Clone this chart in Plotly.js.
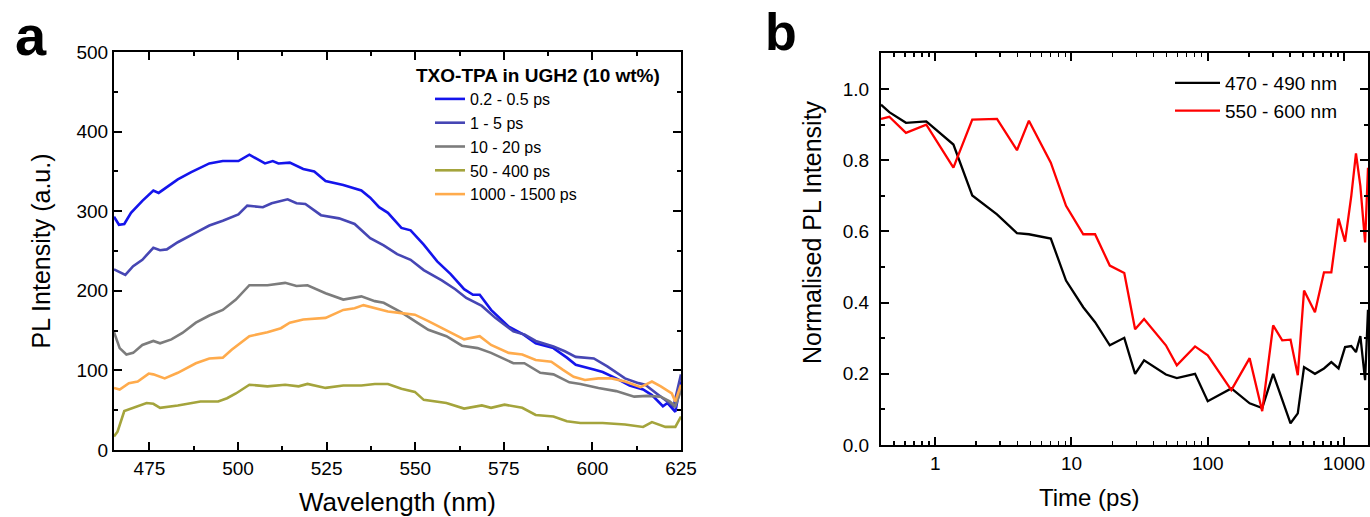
<!DOCTYPE html>
<html>
<head>
<meta charset="utf-8">
<script src="https://cdn.plot.ly/plotly-3.0.1.min.js"></script>
<style>
html,body{margin:0;padding:0;background:#fff;}
#chart{width:1370px;height:517px;}
</style>
</head>
<body>
<div id="chart"></div>
<script>
// ---------- Panel a : PL spectra (wavelength nm -> PL intensity a.u.) ----------
const seriesNamesA = ["0.2 - 0.5 ps", "1 - 5 ps", "10 - 20 ps", "50 - 400 ps", "1000 - 1500 ps"];

const wlBlue = [465.0,466.4,467.9,469.8,473.0,476.1,477.6,479.3,483.0,486.8,491.9,495.7,500.1,503.2,507.6,509.8,511.4,514.6,518.4,521.5,524.7,529.7,534.8,537.3,539.8,542.3,546.1,548.7,552.4,556.2,560.0,563.8,566.3,568.2,571.4,576.4,580.2,584.0,589.0,592.8,595.3,600.4,602.9,606.7,610.5,614.3,616.8,619.9,621.2,623.4,625.0];
const intBlue = [293,283,284,298,313,326,323,328,340,349,360,363,363,371,360,363,360,361,353,350,338,333,326,317,305,298,279,276,258,237,221,202,195,195,176,155,146,134,128,116,107,101,98,90,81,76,69,55,59,48,86];

const wlSlate = [465.0,466.6,468.2,470.4,473.0,476.1,478.0,479.9,483.0,488.1,491.9,495.7,500.1,502.6,507.0,509.5,514.0,516.5,519.0,523.4,528.5,532.9,537.3,541.1,544.9,548.7,552.4,557.5,561.3,564.4,568.8,572.6,577.7,580.8,584.0,589.0,592.2,595.3,600.4,604.2,609.2,613.0,614.9,618.1,620.6,622.9,625.0];
const intSlate = [227,224,220,231,239,254,251,252,261,273,282,288,296,307,305,310,315,310,309,295,291,284,266,257,246,239,226,213,202,191,181,166,149,145,137,130,124,117,115,105,90,84,82,71,63,55,95];

const wlGray = [465.0,466.6,468.5,470.4,473.0,476.1,478.0,481.2,484.3,488.1,491.9,495.7,499.4,503.2,508.3,513.3,516.5,519.6,524.7,529.7,534.8,538.6,541.1,546.1,549.9,553.7,558.8,563.2,567.6,571.4,577.7,580.8,585.3,589.0,593.5,596.6,601.7,606.7,611.8,615.5,619.3,621.8,623.4,625.0];
const intGray = [148,128,120,122,132,137,134,139,147,160,169,176,189,207,207,210,206,207,197,189,193,187,185,173,162,151,143,131,128,122,109,109,97,95,85,83,78,74,67,68,67,61,55,75];

const wlOlive = [465.0,466.0,467.9,470.4,474.2,476.1,478.0,483.0,489.4,494.4,496.9,499.4,503.2,508.3,513.3,517.1,519.6,524.7,529.7,534.8,538.6,542.3,546.1,549.9,552.4,558.8,563.8,568.8,571.4,575.2,580.2,584.0,589.0,592.8,596.6,602.9,609.2,614.3,616.8,620.6,623.4,625.0];
const intOlive = [17,23,49,53,59,58,53,56,61,61,65,71,82,80,82,80,83,78,81,81,83,83,77,73,63,59,52,56,53,57,53,44,42,36,34,34,32,29,35,29,29,42];

const wlOrange = [465.0,466.6,469.2,471.7,474.8,476.1,479.3,483.0,488.1,491.9,495.7,498.2,503.2,508.3,512.1,514.6,518.4,524.7,529.7,532.9,535.4,538.6,542.3,546.1,549.9,553.7,557.5,561.3,563.8,568.2,571.4,576.4,580.2,584.0,588.4,591.6,594.7,597.9,601.7,605.4,609.2,613.6,616.8,619.3,622.4,623.4,625.0];
const intOrange = [78,76,84,86,96,95,90,97,109,115,116,126,143,148,153,160,164,166,176,178,182,178,174,172,170,162,153,144,139,143,132,122,120,113,111,101,92,88,90,90,86,79,86,80,71,61,82];

const xTicksA = [475, 500, 525, 550, 575, 600, 625];
const yTicksA = [0, 100, 200, 300, 400, 500];
const legendTitleA = "TXO-TPA in UGH2 (10 wt%)";

// ---------- Panel b : normalised kinetics ----------
const seriesNamesB = ["470 - 490 nm", "550 - 600 nm"];
const timePs = [0.4,0.46,0.61,0.86,1.36,1.87,2.84,3.98,4.87,7.05,9.12,12.2,14.9,19.1,24.4,29.3,34.1,49.3,59.3,80.7,100,149,203,251,302,352,405,458,509,612,713,807,912,1018,1131,1224,1318,1428,1500];
const norm470 = [0.956,0.935,0.905,0.909,0.844,0.701,0.648,0.595,0.592,0.580,0.462,0.387,0.345,0.280,0.301,0.200,0.238,0.198,0.188,0.200,0.123,0.159,0.117,0.104,0.200,0.130,0.061,0.089,0.219,0.200,0.215,0.233,0.215,0.275,0.278,0.261,0.306,0.182,0.380];
const norm550 = [0.916,0.922,0.877,0.900,0.779,0.914,0.916,0.828,0.911,0.793,0.672,0.592,0.592,0.504,0.483,0.325,0.354,0.280,0.224,0.277,0.252,0.154,0.244,0.095,0.336,0.294,0.296,0.196,0.434,0.373,0.485,0.485,0.636,0.571,0.700,0.819,0.728,0.569,0.779];

const xTickValsB = [1, 10, 100, 1000];
const xTickTextB = ["1", "10", "100", "1000"];
const xMinorTicksB = [0.5,0.6,0.7,0.8,0.9,2,3,4,5,6,7,8,9,20,30,40,50,60,70,80,90,200,300,400,500,600,700,800,900];
const yTicksB = [0, 0.2, 0.4, 0.6, 0.8, 1.0];

// ---------- Build ----------
const W = 1370, H = 517;
const FONT = "Liberation Sans, Arial, sans-serif";
const px = v => v / W;
const py = v => (H - v) / H;

const colorsA = ["#1414ec", "#4646b4", "#7c7c7c", "#a4a43c", "#ffab4c"];
const wlA = [wlBlue, wlSlate, wlGray, wlOlive, wlOrange];
const intA = [intBlue, intSlate, intGray, intOlive, intOrange];

const traces = [];
for (let i = 0; i < 5; i++) {
  traces.push({
    x: wlA[i], y: intA[i], name: seriesNamesA[i], type: "scatter", mode: "lines",
    line: {color: colorsA[i], width: 2.6}, xaxis: "x", yaxis: "y", legend: "legend"
  });
}
const colorsB = ["#000000", "#ff0000"];
const valsB = [norm470, norm550];
for (let i = 0; i < 2; i++) {
  traces.push({
    x: timePs, y: valsB[i], name: seriesNamesB[i], type: "scatter", mode: "lines",
    line: {color: colorsB[i], width: 2.3}, xaxis: "x2", yaxis: "y2", legend: "legend2"
  });
}

const axisCommon = {
  showline: true, linecolor: "#000", linewidth: 2, mirror: "ticks",
  ticks: "inside", ticklen: 8, tickwidth: 2, tickcolor: "#000",
  showgrid: false, zeroline: false, fixedrange: true
};

const layout = {
  width: W, height: H,
  margin: {l: 0, r: 0, t: 0, b: 0},
  paper_bgcolor: "#fff", plot_bgcolor: "#fff",
  font: {family: FONT, color: "#000", size: 20},
  xaxis: Object.assign({}, axisCommon, {
    domain: [px(114), px(681)], range: [465, 625],
    tickvals: xTicksA, tickfont: {size: 19},
    minor: {dtick: 12.5, tick0: 0, ticks: "inside", ticklen: 4, tickwidth: 2, tickcolor: "#000"},
    title: {text: "Wavelength (nm)", font: {size: 26}, standoff: 16},
    anchor: "y"
  }),
  yaxis: Object.assign({}, axisCommon, {
    domain: [py(450), py(52)], range: [0, 500],
    tickvals: yTicksA, tickfont: {size: 19},
    minor: {dtick: 50, tick0: 0, ticks: "inside", ticklen: 4, tickwidth: 2, tickcolor: "#000"},
    title: {text: "PL Intensity (a.u.)", font: {size: 25}, standoff: 19},
    anchor: "x"
  }),
  xaxis2: Object.assign({}, axisCommon, {
    type: "log",
    domain: [px(881), px(1368)], range: [Math.log10(0.4), Math.log10(1500)],
    tickvals: xTickValsB, ticktext: xTickTextB, tickfont: {size: 19},
    minor: {tickmode: "array", tickvals: xMinorTicksB, ticks: "inside", ticklen: 4, tickwidth: 1.5, tickcolor: "#000"},
    anchor: "y2"
  }),
  yaxis2: Object.assign({}, axisCommon, {
    domain: [py(445), py(53.4)], range: [0, 1.1],
    tickvals: yTicksB, tickformat: ".1f", tickfont: {size: 19},
    ticklabelstandoff: 6,
    minor: {dtick: 0.1, tick0: 0, ticks: "inside", ticklen: 4, tickwidth: 2, tickcolor: "#000"},
    anchor: "x2"
  }),
  legend: {
    x: px(430), y: py(82), xanchor: "left", yanchor: "top",
    bgcolor: "rgba(0,0,0,0)", borderwidth: 0, font: {size: 16, family: FONT},
    itemwidth: 30, tracegroupgap: 0
  },
  legend2: {
    x: px(1170), y: py(64), xanchor: "left", yanchor: "top",
    bgcolor: "rgba(0,0,0,0)", borderwidth: 0, font: {size: 19, family: FONT},
    itemwidth: 45
  },
  annotations: [
    {text: "<b>" + legendTitleA + "</b>", xref: "paper", yref: "paper",
     x: px(414), y: py(75), xanchor: "left", yanchor: "middle", showarrow: false,
     font: {size: 19}},
    {text: "<b>a</b>", xref: "paper", yref: "paper", x: px(31), y: py(2),
     xanchor: "center", yanchor: "top", showarrow: false, font: {size: 56}},
    {text: "<b>b</b>", xref: "paper", yref: "paper", x: px(781), y: py(1),
     xanchor: "center", yanchor: "top", showarrow: false, font: {size: 52}},
    {text: "Time (ps)", xref: "paper", yref: "paper", x: px(1089), y: py(497),
     xanchor: "center", yanchor: "middle", showarrow: false, font: {size: 24}},
    {text: "Normalised PL Intensity", xref: "paper", yref: "paper", x: px(812), y: py(232),
     xanchor: "center", yanchor: "middle", showarrow: false, textangle: -90, font: {size: 25}}
  ],
  showlegend: true
};

Plotly.newPlot("chart", traces, layout, {staticPlot: true, displayModeBar: false});
</script>
</body>
</html>
